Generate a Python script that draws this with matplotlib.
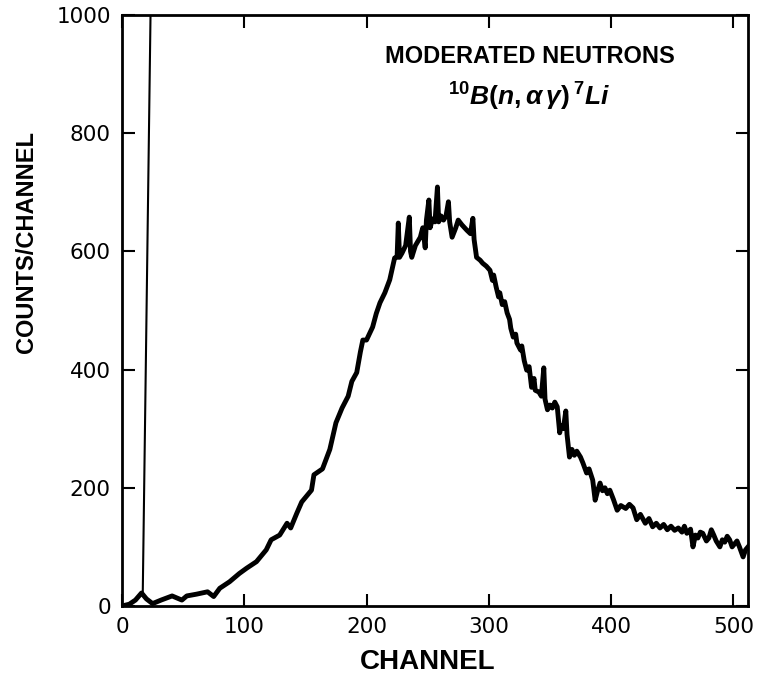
import matplotlib
matplotlib.use("Agg")
import matplotlib.pyplot as plt

# ---- data ----
channel = [0, 6, 11, 16, 20, 25, 32, 41, 49, 53, 61, 70, 75, 80, 88, 96, 102, 110,
           118, 122, 129, 135, 138, 143, 147, 155, 157, 164, 170, 175, 180, 185, 188,
           192, 195, 197, 200, 205, 208, 211, 215, 219, 223, 225, 226, 227, 229, 232,
           235, 236, 237, 240, 244, 246, 248, 249, 251, 252, 254, 256, 258, 259, 261,
           263, 265, 267, 268, 270, 273, 275, 278, 282, 285, 287, 288, 290, 293, 295,
           298, 301, 303, 304, 306, 308, 309, 311, 313, 315, 317, 318, 320, 322, 323,
           326, 327, 329, 331, 333, 335, 337, 338, 341, 343, 345, 346, 348, 350, 352,
           354, 356, 358, 359, 361, 363, 364, 366, 368, 370, 372, 375, 377, 380, 382,
           385, 387, 389, 391, 393, 395, 397, 399, 402, 405, 408, 412, 415, 418, 421,
           424, 428, 431, 434, 437, 440, 443, 446, 449, 452, 455, 458, 460, 462, 465,
           467, 469, 471, 473, 475, 478, 480, 482, 484, 486, 489, 491, 493, 495, 497,
           499, 501, 503, 505, 508, 510, 512]
counts = [0, 3, 10, 22, 12, 4, 10, 17, 10, 17, 20, 24, 16, 30, 41, 55, 64, 75,
          95, 112, 120, 140, 132, 157, 176, 196, 222, 232, 265, 310, 335, 355, 380,
          395, 430, 450, 450, 472, 495, 513, 530, 552, 589, 590, 648, 590, 597, 610,
          658, 600, 590, 610, 624, 640, 606, 653, 687, 640, 655, 650, 709, 650, 660,
          653, 660, 684, 650, 624, 640, 653, 645, 636, 630, 656, 620, 590, 585, 580,
          575, 568, 551, 560, 540, 523, 530, 510, 515, 496, 485, 470, 455, 460, 445,
          433, 440, 415, 399, 405, 370, 385, 365, 362, 355, 403, 350, 332, 340, 335,
          345, 337, 293, 305, 300, 330, 290, 252, 265, 255, 262, 252, 242, 225, 232,
          213, 179, 195, 208, 195, 200, 190, 196, 180, 162, 170, 165, 172, 166, 146,
          155, 140, 148, 134, 140, 132, 138, 129, 135, 128, 132, 125, 135, 123, 130,
          100, 120, 115, 125, 123, 110, 115, 129, 120, 110, 100, 112, 108, 118, 112,
          100, 105, 110, 100, 83, 95, 100]

spike_ch = [17, 24]
spike_counts = [22, 1100]

xticks = [0, 100, 200, 300, 400, 500]
yticks = [0, 200, 400, 600, 800, 1000]

plt.rcParams['mathtext.fontset'] = 'custom'
plt.rcParams['mathtext.rm'] = 'Liberation Sans:bold'
plt.rcParams['mathtext.it'] = 'Liberation Sans:italic:bold'

fig = plt.figure(figsize=(7.59, 6.77), dpi=100)
ax = fig.add_axes([0.1607, 0.1049, 0.8248, 0.8729])

ax.plot(channel, counts, color='black', lw=3.5, solid_joinstyle='round')
ax.plot(spike_ch, spike_counts, color='black', lw=1.5)

ax.set_xlim(0, 512)
ax.set_ylim(0, 1000)
ax.set_xticks(xticks)
ax.set_yticks(yticks)
ax.tick_params(direction='in', length=9, width=1.5, top=True, right=True,
               pad=8, labelsize=15.5)
for lab in ax.get_xticklabels() + ax.get_yticklabels():
    lab.set_fontfamily('DejaVu Sans')
    lab.set_fontweight('medium')
for s in ax.spines.values():
    s.set_linewidth(2.0)

ax.set_xlabel('CHANNEL', fontfamily='Liberation Sans', fontweight='bold', fontsize=20)
ax.set_ylabel('COUNTS/CHANNEL', fontfamily='Liberation Sans', fontweight='bold', fontsize=17)
ax.xaxis.set_label_coords(0.488, -0.095)
ax.yaxis.set_label_coords(-0.152, 0.616)
ax.xaxis.label.set_va('center')
ax.yaxis.label.set_va('center')

ax.text(0.651, 0.93, 'MODERATED NEUTRONS', transform=ax.transAxes, ha='center',
        va='center', fontfamily='Liberation Sans', fontweight='bold', fontsize=17)
ax.text(0.651, 0.862, r'$^{10}B(n,\alpha\,\gamma)\,^{7}Li$', transform=ax.transAxes,
        ha='center', va='center', fontsize=19)

fig.savefig('out.png', dpi=100)
